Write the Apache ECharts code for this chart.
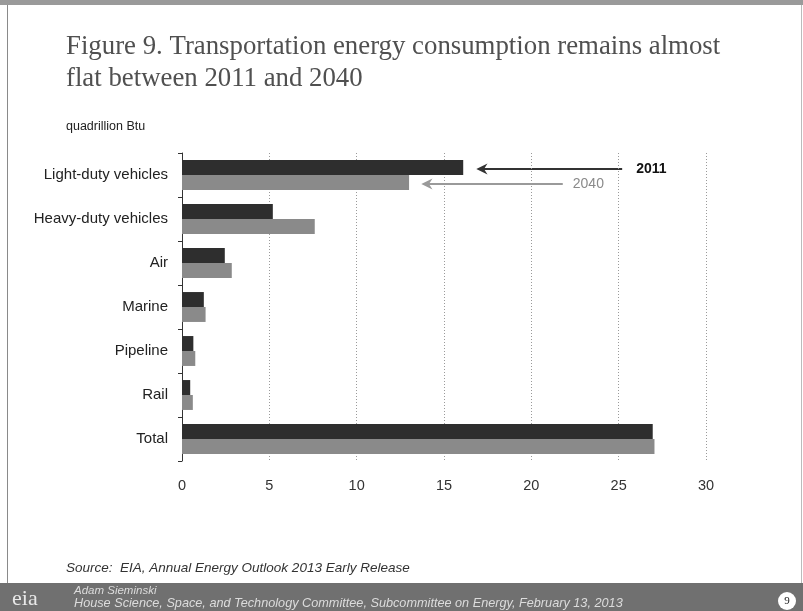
<!DOCTYPE html>
<html>
<head>
<meta charset="utf-8">
<script src="https://cdn.jsdelivr.net/npm/echarts@6/dist/echarts.min.js"></script>
<style>
  html, body { margin: 0; padding: 0; background: #fff; }
  #chart { width: 803px; height: 611px; }
</style>
</head>
<body>
<div id="chart"></div>
<script>
// ---- data ----
var categories = ['Light-duty vehicles', 'Heavy-duty vehicles', 'Air', 'Marine', 'Pipeline', 'Rail', 'Total'];
var values2011 = [16.1, 5.2, 2.45, 1.25, 0.65, 0.47, 26.95];
var values2040 = [13.0, 7.6, 2.85, 1.35, 0.76, 0.62, 27.05];
var xTicks = [0, 5, 10, 15, 20, 25, 30];
var seriesNames = ['2011', '2040'];
var arrowTail = [25.2, 21.8];   // where annotation arrows start (quadrillion Btu)
var arrowHead = [16.85, 13.7];  // where annotation arrow heads sit

var chart = echarts.init(document.getElementById('chart'), null, { renderer: 'canvas' });
var sans = 'Liberation Sans, Arial, sans-serif';
var serif = 'Liberation Serif, Times New Roman, serif';

var decor = [
  { type: 'rect', shape: { x: 0, y: 0, width: 803, height: 5 }, style: { fill: '#9a9a9a' }, silent: true },
  { type: 'line', shape: { x1: 7.5, y1: 5, x2: 7.5, y2: 583 }, style: { stroke: '#8a8a8a', lineWidth: 1 }, silent: true },
  { type: 'line', shape: { x1: 801.5, y1: 5, x2: 801.5, y2: 583 }, style: { stroke: '#bbbbbb', lineWidth: 1 }, silent: true },
  { type: 'text', left: 66, top: 120, style: { text: 'quadrillion Btu', font: '12.5px ' + sans, fill: '#222' } },
  { type: 'text', left: 66, top: 561, style: { text: 'Source:  EIA, Annual Energy Outlook 2013 Early Release', font: 'italic 13.5px ' + sans, fill: '#333' } },
  { type: 'rect', shape: { x: 0, y: 583, width: 803, height: 28 }, style: { fill: '#707070' }, silent: true },
  { type: 'text', left: 12, top: 588, style: { text: 'eia', font: '22px ' + serif, fill: '#e8e8e8' } },
  { type: 'text', left: 74, top: 585, style: { text: 'Adam Sieminski', font: 'italic 11.5px ' + sans, fill: '#dcdcdc' } },
  { type: 'text', left: 74, top: 597, style: { text: 'House Science, Space, and Technology Committee, Subcommittee on Energy, February 13, 2013', font: 'italic 12.7px ' + sans, fill: '#dcdcdc' } },
  { type: 'circle', shape: { cx: 787, cy: 601, r: 9 }, style: { fill: '#ffffff' }, silent: true },
  { type: 'text', x: 787, y: 601, style: { text: '9', font: '11px ' + serif, fill: '#222', textAlign: 'center', textVerticalAlign: 'middle' } }
];

var option = {
  backgroundColor: '#ffffff',
  animation: false,
  title: {
    text: 'Figure 9. Transportation energy consumption remains almost\nflat between 2011 and 2040',
    left: 61, top: 26,
    textStyle: { fontFamily: serif, fontSize: 26.8, fontWeight: 'normal', color: '#505050', lineHeight: 32 }
  },
  grid: { left: 182, right: 97, top: 153, bottom: 150, containLabel: false },
  xAxis: {
    type: 'value', min: 0, max: 30, interval: 5,
    axisLine: { show: false }, axisTick: { show: false },
    axisLabel: { color: '#333', fontSize: 14.5, fontFamily: sans, margin: 17,
      formatter: function (v) { return xTicks.indexOf(v) >= 0 ? String(v) : ''; } },
    splitLine: { show: true, lineStyle: { color: '#9a9a9a', type: [1, 2], width: 1 } }
  },
  yAxis: {
    type: 'category', data: categories, inverse: true,
    axisLine: { show: true, lineStyle: { color: '#333', width: 1 } },
    axisTick: { show: true, length: 4, lineStyle: { color: '#333' } },
    axisLabel: { color: '#222', fontSize: 15, fontFamily: sans, margin: 14, padding: [4, 0, 0, 0] }
  },
  series: [
    { name: seriesNames[0], type: 'bar', data: values2011, barGap: '0%', barCategoryGap: '32%',
      itemStyle: { color: '#2e2e2e' } },
    { name: seriesNames[1], type: 'bar', data: values2040, barGap: '0%', barCategoryGap: '32%',
      itemStyle: { color: '#8a8a8a' } }
  ],
  graphic: decor
};
chart.setOption(option);

// annotation arrows, positioned through the chart's own axes
function arrowHeadShape(x, y, size) {
  return [[x, y], [x + size * 1.6, y - size * 0.8], [x + size * 1.1, y], [x + size * 1.6, y + size * 0.8]];
}
var c0 = chart.convertToPixel({ yAxisIndex: 0 }, 0);
var c1 = chart.convertToPixel({ yAxisIndex: 0 }, 1);
var band = Math.abs(c1 - c0);
var barW = band * 0.68 / 2;
var ys = [c0 - barW / 2 + 1.5, c0 + barW / 2 + 1.5];
var colors = ['#333333', '#9a9a9a'];
var extra = [];
for (var i = 0; i < 2; i++) {
  var xt = chart.convertToPixel({ xAxisIndex: 0 }, arrowTail[i]);
  var xh = chart.convertToPixel({ xAxisIndex: 0 }, arrowHead[i]);
  extra.push({ type: 'line', shape: { x1: xh + 6, y1: ys[i], x2: xt, y2: ys[i] }, style: { stroke: colors[i], lineWidth: 2 }, silent: true });
  extra.push({ type: 'polygon', shape: { points: arrowHeadShape(xh, ys[i], 7) }, style: { fill: colors[i] }, silent: true });
}
var xl0 = chart.convertToPixel({ xAxisIndex: 0 }, arrowTail[0]) + 14;
var xl1 = chart.convertToPixel({ xAxisIndex: 0 }, arrowTail[1]) + 10;
extra.push({ type: 'text', x: xl0, y: ys[0], style: { text: seriesNames[0], font: 'bold 14px ' + sans, fill: '#111', textVerticalAlign: 'middle' } });
extra.push({ type: 'text', x: xl1, y: ys[1], style: { text: seriesNames[1], font: '14px ' + sans, fill: '#8a8a8a', textVerticalAlign: 'middle' } });
chart.setOption({ graphic: decor.concat(extra) });
</script>
</body>
</html>
